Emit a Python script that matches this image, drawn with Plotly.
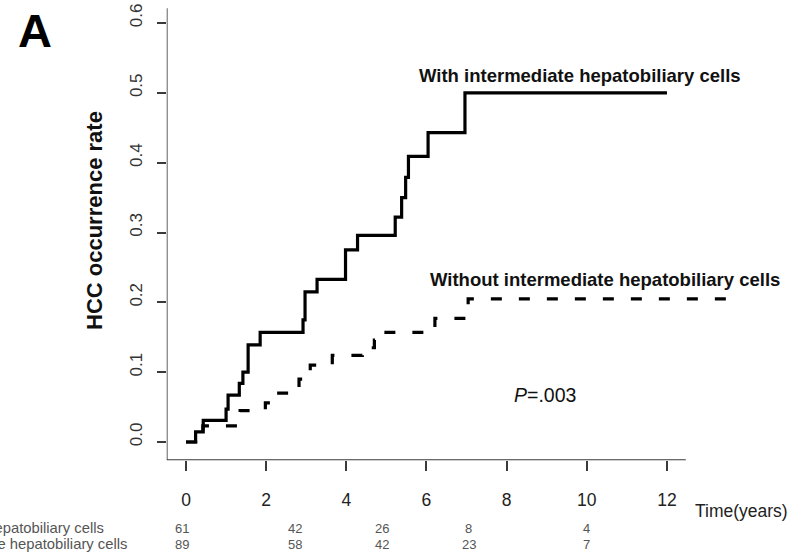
import plotly.graph_objects as go

# ---- data ----
with_t = [0, 0.24, 0.43, 1.0, 1.05, 1.33, 1.42, 1.55, 1.85, 2.92, 2.97, 3.27, 3.98, 4.28,
          5.22, 5.38, 5.48, 5.55, 6.04, 6.96, 12.0]
with_y = [0, 0.0146, 0.031, 0.047, 0.067, 0.084, 0.100, 0.139, 0.157, 0.175, 0.215, 0.233,
          0.275, 0.296, 0.322, 0.350, 0.379, 0.409, 0.443, 0.500, 0.500]

without_t = [0, 0.24, 0.42, 1.35, 1.98, 2.2, 2.82, 2.9, 3.1, 3.65, 4.4, 4.7, 4.75, 6.21, 7.04, 13.64]
without_y = [0, 0.011, 0.023, 0.045, 0.056, 0.070, 0.090, 0.100, 0.110, 0.124, 0.135, 0.146,
             0.157, 0.177, 0.205, 0.205]

x_ticks = [0, 2, 4, 6, 8, 10, 12]
y_ticks = [0.0, 0.1, 0.2, 0.3, 0.4, 0.5, 0.6]

risk_pos = [-0.11, 2.72, 4.90, 7.06, 10.0]
risk_with = [61, 42, 26, 8, 4]
risk_without = [89, 58, 42, 23, 7]

label_with = "With intermediate hepatobiliary cells"
label_without = "Without intermediate hepatobiliary cells"
p_text = "<i>P</i>=.003"

# ---- geometry ----
W, H = 802, 556
px_per_year = 40.08
x0_px = 186.0
x_range = [-0.48, 14.0]
y_range = [-0.026, 0.63]
ppu_y = 698.3
y0_px = 442.0

FONT = "Liberation Sans, Arial, sans-serif"
AX = "#3a3a3a"

xl = (x0_px + x_range[0] * px_per_year) / W
xr = (x0_px + x_range[1] * px_per_year) / W
yb = (H - (y0_px - y_range[0] * ppu_y)) / H
yt = (H - (y0_px - y_range[1] * ppu_y)) / H


def ypaper(py):
    return (H - py) / H


def xpaper(px):
    return px / W


fig = go.Figure()
fig.add_trace(go.Scatter(x=with_t, y=with_y, mode="lines", line_shape="hv",
                         line=dict(color="#000000", width=3.2), showlegend=False,
                         hoverinfo="skip"))
fig.add_trace(go.Scatter(x=without_t, y=without_y, mode="lines", line_shape="hv",
                         line=dict(color="#000000", width=3.2, dash="11px,17px"),
                         showlegend=False, hoverinfo="skip"))

# axis lines (L-shaped box)
fig.add_shape(type="line", xref="x", yref="y", x0=-0.48, x1=12.47, y0=y_range[0], y1=y_range[0],
              line=dict(color=AX, width=1.6))
fig.add_shape(type="line", xref="x", yref="y", x0=-0.48, x1=-0.48, y0=y_range[0], y1=0.621,
              line=dict(color=AX, width=1.6))

ann = []


def add(text, x, y, size, color="#111", xanchor="center", xref="paper", angle=0):
    ann.append(dict(text=text, x=x, y=y, xref=xref, yref="paper", xanchor=xanchor,
                    yanchor="middle", textangle=angle, showarrow=False,
                    font=dict(family=FONT, size=size, color=color)))


add("<b>A</b>", xpaper(35), ypaper(30), 47, "#000")
add("<b>HCC occurrence rate</b>", xpaper(95), ypaper(221), 22, angle=-90)
add("<b>" + label_with + "</b>", xpaper(417), ypaper(75), 18.5, xanchor="left")
add("<b>" + label_without + "</b>", xpaper(428), ypaper(279), 18.5, xanchor="left")
add(p_text, xpaper(512), ypaper(395), 19.5, xanchor="left")
add("Time(years)", xpaper(693), ypaper(511), 17.5, "#222", xanchor="left")
add(label_with, xpaper(106), ypaper(528), 14.8, "#555", xanchor="right")
add(label_without, xpaper(129), ypaper(544), 14.8, "#555", xanchor="right")
for xp, a, b in zip(risk_pos, risk_with, risk_without):
    add(str(a), xp, ypaper(528), 13, "#555", xref="x")
    add(str(b), xp, ypaper(544), 13, "#555", xref="x")

fig.update_layout(
    width=W, height=H, margin=dict(l=0, r=0, t=0, b=0),
    paper_bgcolor="white", plot_bgcolor="white",
    annotations=ann,
    xaxis=dict(domain=[xl, xr], range=x_range, tickvals=x_ticks, ticktext=[str(v) for v in x_ticks],
               showgrid=False, zeroline=False, showline=False, ticks="outside", ticklen=10,
               tickwidth=1.6, tickcolor=AX, ticklabelstandoff=14,
               tickfont=dict(family=FONT, size=17.5, color="#222")),
    yaxis=dict(domain=[yb, yt], range=y_range, tickvals=y_ticks,
               ticktext=["%.1f" % v for v in y_ticks], tickangle=-90,
               showgrid=False, zeroline=False, showline=False, ticks="outside", ticklen=9,
               tickwidth=1.6, tickcolor=AX, ticklabelstandoff=8, ticklabelshift=-5,
               tickfont=dict(family=FONT, size=17, color="#333")),
)

fig.write_html("out.html")
